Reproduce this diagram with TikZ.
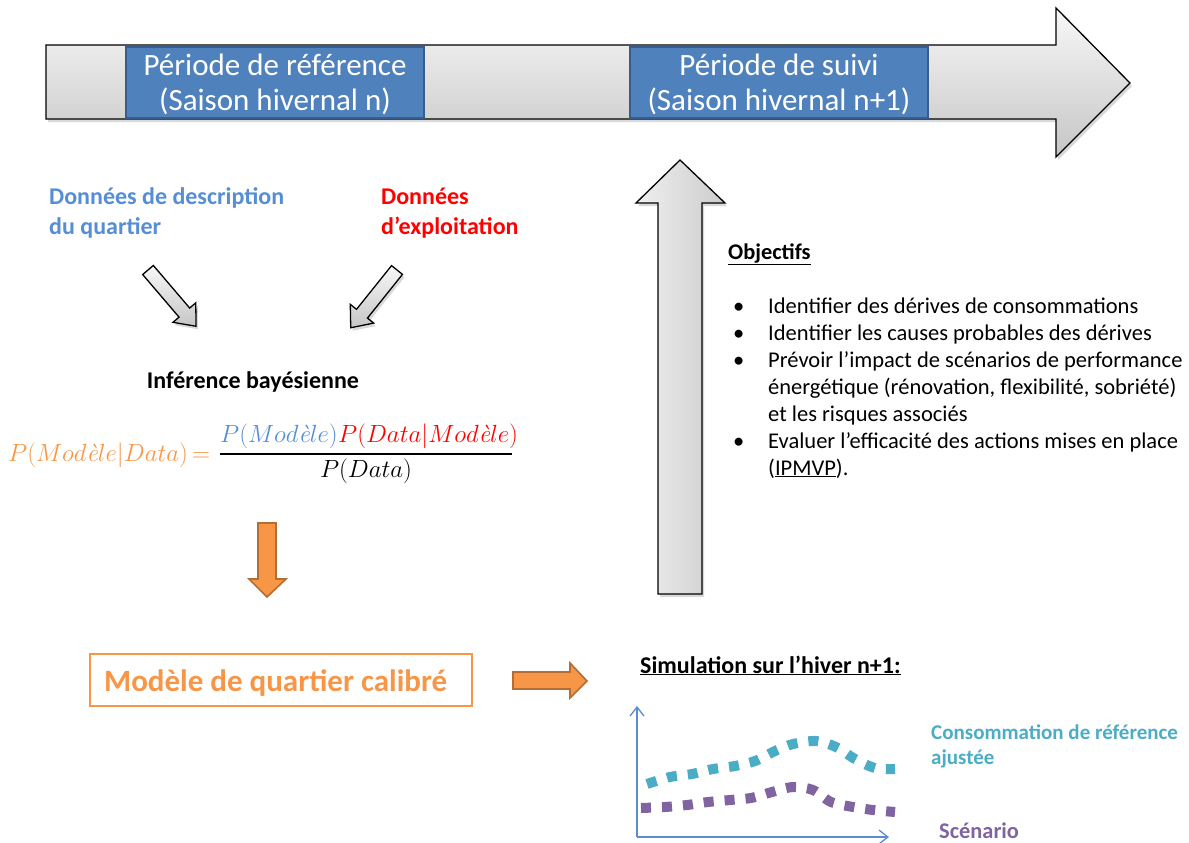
\documentclass[tikz,border=0pt]{standalone}
\usepackage{fontspec}
\setmainfont{Carlito}
\newfontfamily\lmfam{Latin Modern Roman}
\newcommand{\egr}{\mbox{\lmfam\itshape è}}
\usetikzlibrary{arrows.meta,shadows}
\definecolor{boxblue}{HTML}{4F81BD}
\definecolor{boxborder}{HTML}{385D8A}
\definecolor{txtblue}{HTML}{558ED5}
\definecolor{orng}{HTML}{F79646}
\definecolor{orngdark}{HTML}{B66D31}
\definecolor{tealc}{HTML}{4BACC6}
\definecolor{purp}{HTML}{8064A2}
\definecolor{axisblue}{HTML}{5B8BD0}
\definecolor{redc}{HTML}{FF0000}
\begin{document}
\begin{tikzpicture}[x=1pt,y=-1pt,
  shadowed/.style={drop shadow={opacity=0.3,shadow xshift=2pt,shadow yshift=-3pt}},
  grayarrow/.style={draw=black, line width=1.3pt, line join=miter, top color=gray!6, bottom color=gray!45, shadowed},
  grayvarrow/.style={draw=black, line width=1.3pt, line join=miter, left color=gray!12, right color=gray!40, shadowed},
  orarrow/.style={draw=orngdark, line width=1.6pt, fill=orng, line join=miter},
  periodbox/.style={draw=boxborder, line width=1.5pt, fill=boxblue},
  periodtxt/.style={text=white, align=center, inner sep=0pt, font=\fontsize{31}{35}\selectfont},
  lbl/.style={inner sep=0pt, anchor=base west, align=left},
  mathlbl/.style={inner sep=0pt, font=\fontsize{25}{30}\selectfont},
  axisline/.style={draw=axisblue, line width=1.3pt, -{Straight Barb[length=9pt,width=14pt]}},
  tealdots/.style={draw=tealc, line width=10pt, dash pattern=on 10pt off 11pt},
  purpdots/.style={draw=purp, line width=10pt, dash pattern=on 10pt off 11pt}
]
\useasboundingbox (0,0) rectangle (1189,843);

% big timeline arrow
\path[grayarrow] (46,45) -- (1056,45) -- (1056,8) -- (1130,83) -- (1056,157) -- (1056,119) -- (46,119) -- cycle;
\path[periodbox] (126,47) rectangle (424,118);
\path[periodbox] (630,47) rectangle (928,118);
\node[periodtxt] (ref) at (275,84) {Période de référence\\(Saison hivernal n)};
\node[periodtxt] (suivi) at (779,84) {Période de suivi\\(Saison hivernal n+1)};

% vertical arrow
\path[grayvarrow] (658,594) -- (658,203) -- (636,203) -- (680,160) -- (725,203) -- (702,203) -- (702,594) -- cycle;

% data labels (base = last line)
\node[lbl, text=txtblue, font=\bfseries\fontsize{24}{30}\selectfont] (desc) at (49,234) {Données de description\\du quartier};
\node[lbl, text=redc, font=\bfseries\fontsize{24}{30}\selectfont] (expl) at (381,234) {Données\\d’exploitation};

% diagonal arrows
\begin{scope}[shift={(148,270)}, rotate=-49.5]
  \path[grayarrow] (0,-7) -- (56,-7) -- (56,-15) -- (74,0) -- (56,15) -- (56,7) -- (0,7) -- cycle;
\end{scope}
\begin{scope}[shift={(397,270)}, rotate=-128.7]
  \path[grayarrow] (0,-7) -- (56,-7) -- (56,-15) -- (74,0) -- (56,15) -- (56,7) -- (0,7) -- cycle;
\end{scope}

% inference
\node[lbl, anchor=base, font=\bfseries\fontsize{24}{28}\selectfont] (inf) at (253,388) {Inférence bayésienne};
\node[mathlbl, anchor=base west, text=orng] (lhs) at (8,461) {$P(Mod\egr le|Data)\,{=}$};
\node[mathlbl, anchor=base west, text=txtblue] (numb) at (220,442) {$P(Mod\egr le)$};
\node[mathlbl, anchor=base west, text=redc] (numr) at (numb.base east) {$P(Data|Mod\egr le)$};
\coordinate (fracl) at (220,454);
\coordinate (fracr) at (512,454);
\draw[line width=1.2pt] (fracl) -- (fracr);
\node[mathlbl, anchor=base] (den) at (366,477) {$P(Data)$};

% orange down arrow
\path[orarrow] (258,523) -- (276,523) -- (276,579) -- (286,579) -- (267,597) -- (249,579) -- (258,579) -- cycle;

% calibrated model box
\node[draw=orng, line width=2.5pt, minimum width=382pt, minimum height=52pt, inner sep=0pt] (model) at (281,680) {};
\node[lbl, text=orng, font=\bfseries\fontsize{31}{35}\selectfont] (modeltxt) at (104,691) {Modèle de quartier calibré};

% orange right arrow
\path[orarrow] (513,672) -- (570,672) -- (570,663) -- (587,681) -- (570,698) -- (570,689) -- (513,689) -- cycle;

% objectives
\node[lbl, font=\bfseries\fontsize{22.4}{26}\selectfont] (obj) at (728,259) {\underline{Objectifs}};
\node[lbl, font=\fontsize{22.5}{27}\selectfont] (objlist) at (733,313)
 {\begin{tabular}[t]{@{}p{35pt}@{}l@{}}
  \textbullet & Identifier des dérives de consommations\\
  \textbullet & Identifier les causes probables des dérives\\
  \textbullet & Prévoir l’impact de scénarios de performance\\
   & énergétique (rénovation, flexibilité, sobriété)\\
   & et les risques associés\\
  \textbullet & Evaluer l’efficacité des actions mises en place\\
   & (\underline{IPMVP}).
 \end{tabular}};

% simulation
\node[lbl, font=\bfseries\fontsize{24}{28}\selectfont] (sim) at (640,673) {\underline{Simulation sur l’hiver n+1:}};
\coordinate (orig) at (637,837);
\coordinate (ytop) at (637,706);
\coordinate (xend) at (889,837);
\draw[axisline] (orig) -- (ytop);
\draw[axisline] (orig) -- (xend);
\draw[tealdots] plot[smooth] coordinates {(647,784) (670,777) (692,774) (713,769) (735,766) (755,761) (775,751) (793,744) (816,741) (836,747) (855,759) (875,768) (895,769)};
\draw[purpdots] plot[smooth] coordinates {(641,808) (665,807) (687,805) (708,802) (730,800) (751,798) (772,792) (793,787) (813,790) (831,802) (853,807) (873,810) (895,812)};
\node[lbl, text=tealc, font=\bfseries\fontsize{21}{25}\selectfont] (conso) at (931,764) {Consommation de référence\\ajustée};
\node[lbl, text=purp, font=\bfseries\fontsize{22.4}{26}\selectfont] (scen) at (939,838) {Scénario};
\end{tikzpicture}
\end{document}
